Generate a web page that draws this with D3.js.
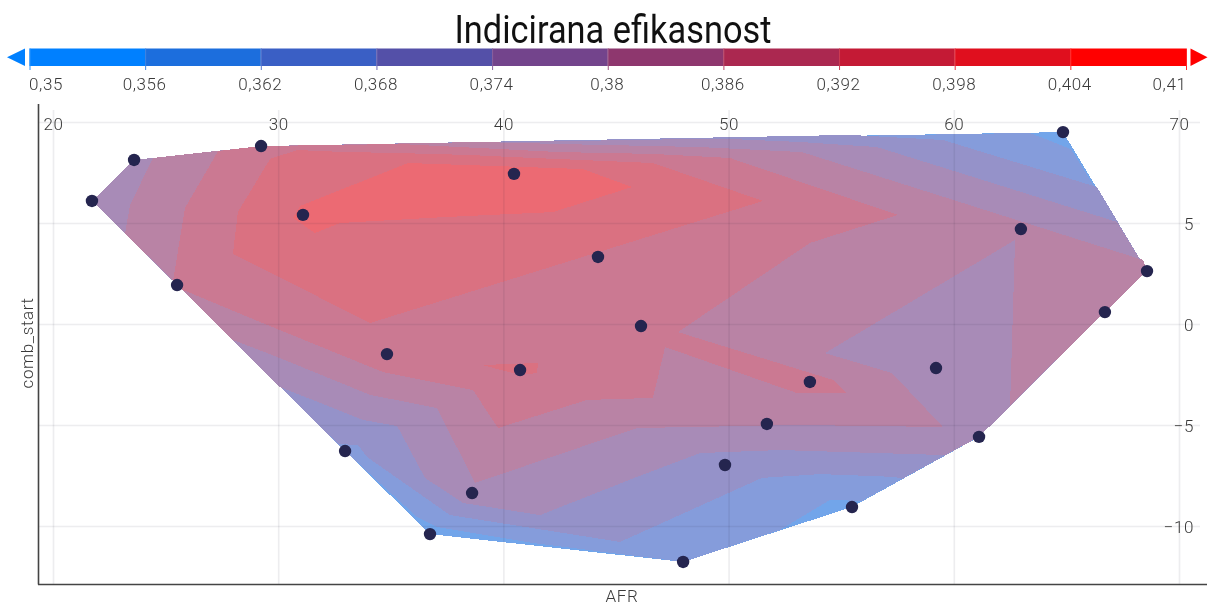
<!DOCTYPE html>
<html><head><meta charset="utf-8">
<script src="https://cdn.jsdelivr.net/npm/d3@7"></script>
<style>
html,body{margin:0;padding:0;background:#fff;overflow:hidden}
svg{display:block;filter:blur(.5px)}
text{font-family:Roboto,"Open Sans",sans-serif;fill:#3a3a3a}
.num{letter-spacing:.6px;font-weight:300}
</style></head><body>
<svg id="c" width="1209" height="606"></svg>
<script>
const titleText = "Indicirana efikasnost";
const xLabel = "AFR";
const yLabel = "comb_start";
const scaleTicks = [0.35,0.356,0.362,0.368,0.374,0.38,0.386,0.392,0.398,0.404,0.41];
const scaleColors = ["#0080ff","#1c6edd","#3a5fc5","#5450a8","#73448c","#8e376e","#ab2850","#c41a35","#e00f1e","#ff0000"];
const xTicks = [20,30,40,50,60,70];
const yGrid = [10,5,0,-5,-10];
const yTicks = [5,0,-5,-10];

// measured points: [AFR, comb_start]
const points = [[21.73,6.09],[23.60,8.12],[29.24,8.81],[31.10,5.40],[25.51,1.93],[40.47,7.43],[44.20,3.32],[46.11,-0.10],
[34.83,-1.49],[40.74,-2.28],[53.61,-2.87],[51.70,-4.95],[49.84,-6.98],[59.21,-2.18],[61.12,-5.59],[62.98,4.70],
[64.85,9.50],[68.58,2.62],[66.71,0.59],[55.48,-9.06],[47.98,-11.78],[38.61,-8.37],[36.74,-10.40],[32.97,-6.29]];

// contour regions: everything at or above the band's lower bound
const band356 = [[[21.73,6.09],[23.60,8.12],[29.24,8.81],[64.85,9.50],[68.58,2.62],[66.71,0.59],[61.12,-5.59],[55.48,-9.06],[47.98,-11.78],[36.74,-10.40],[32.97,-6.29],[25.51,1.93]]];
const band362 = [[[21.73,6.09],[23.60,8.12],[29.24,8.81],[63.38,9.46],[65.20,8.66],[68.58,2.62],[66.71,0.59],[61.12,-5.59],[55.92,-8.76],[54.50,-8.71],[52.28,-10.20],[47.98,-11.78],[41.31,-10.84],[37.05,-10.05],[36.16,-9.55],[32.97,-6.29],[25.51,1.93]]];
const band368 = [[[21.73,6.09],[23.60,8.12],[29.24,8.81],[55.39,9.36],[59.52,9.11],[66.36,6.78],[68.58,2.62],[66.71,0.59],[61.12,-5.59],[57.70,-7.67],[57.39,-7.57],[54.06,-7.43],[51.48,-7.62],[45.18,-10.79],[37.63,-9.46],[33.94,-6.58],[33.54,-5.99],[32.66,-5.94],[25.51,1.93]]];
const band374 = [[[21.73,6.09],[23.60,8.12],[29.24,8.81],[49.62,9.18],[53.17,9.01],[56.59,8.76],[60.28,7.48],[67.25,5.05],[68.58,2.62],[66.71,0.59],[61.12,-5.59],[59.61,-6.49],[52.28,-6.24],[48.73,-6.39],[45.93,-7.57],[41.63,-9.46],[38.21,-8.86],[36.52,-7.62],[35.28,-5.05],[33.77,-4.75],[30.08,-3.12],[25.51,1.93]]];
const band380 = [[[24.44,8.22],[29.24,8.81],[38.96,9.01],[42.51,8.91],[48.73,8.76],[53.26,8.51],[68.40,3.17],[68.58,2.62],[66.71,0.59],[62.50,-4.01],[62.72,4.16],[54.28,-1.44],[57.26,-2.43],[59.52,-5.10],[53.17,-5.00],[45.93,-5.15],[38.74,-7.87],[37.05,-4.16],[34.08,-3.51],[29.95,-1.63],[27.99,-0.79],[25.51,1.93],[23.20,4.50],[23.42,5.89]]];
const band386 = [[[27.33,8.56],[29.24,8.81],[35.41,8.91],[42.51,8.51],[46.64,8.42],[50.06,8.22],[57.52,5.40],[53.61,4.01],[47.75,-0.40],[54.64,-2.77],[55.26,-3.42],[53.04,-3.42],[47.18,-1.14],[46.64,-3.66],[43.71,-3.76],[39.76,-5.15],[38.65,-3.27],[34.65,-2.38],[29.19,0.10],[25.68,1.73],[25.33,2.13],[25.86,5.74]]];
const band392 = [[[30.83,8.61],[33.06,8.51],[35.10,8.47],[38.38,8.37],[41.31,8.22],[46.64,7.97],[51.53,6.09],[34.08,0.05],[27.99,3.47],[28.21,5.54],[29.64,8.17]],
                 [[39.05,-2.03],[41.54,-1.93],[41.49,-2.43],[40.74,-2.52]]];
const band398 = [[[30.97,5.84],[35.76,7.97],[43.53,7.67],[45.71,6.78],[42.20,5.54],[37.50,5.30],[32.74,5.00],[31.63,4.50],[30.66,5.25]]];
const bands = [band356,band362,band368,band374,band380,band386,band392,band398];

const svg = d3.select("#c");
const x = d3.scaleLinear().domain([20,70]).range([53,1179]);
const y = d3.scaleLinear().domain([-10,10]).range([526,122]);
const barX = d3.scaleLinear().domain([0.35,0.41]).range([29.5,1186]);
const bandFill = d3.scaleThreshold().domain(scaleTicks.slice(1,-1)).range(scaleColors);
const comma = v => String(v).replace(".",",");
const numSize = 17;

// title
svg.append("text").attr("x",613).attr("y",43).attr("text-anchor","middle")
  .attr("font-size",38).attr("textLength",317).attr("lengthAdjust","spacingAndGlyphs")
  .style("fill","#111").text(titleText);

// colour bar
const bar = svg.append("g");
bar.selectAll("rect").data(scaleColors).join("rect")
  .attr("x",(d,i)=>barX(scaleTicks[i])).attr("y",48.5)
  .attr("width",(d,i)=>barX(scaleTicks[i+1])-barX(scaleTicks[i])).attr("height",17.5)
  .attr("fill",d=>d);
const barAxis = d3.axisBottom(barX).tickValues(scaleTicks).tickFormat(comma).tickSize(21.5).tickPadding(8);
const barG = svg.append("g").attr("transform","translate(0,48.5)").call(barAxis);
barG.select(".domain").remove();
barG.attr("font-family",null);
barG.selectAll(".tick line").attr("stroke",(d,i)=>d3.interpolateRgb(scaleColors[Math.min(i,9)],"#fff")(0.15));
barG.selectAll(".tick text").attr("class","num").attr("font-size",numSize).style("fill","#3a3a3a")
  .attr("text-anchor",(d,i)=> i===0?"start":i===scaleTicks.length-1?"end":"middle")
  .attr("dx",(d,i)=> i===0?-1:i===scaleTicks.length-1?0:-1);
const arrow = d3.line();
const bw = 17.5;
svg.append("path").attr("d",arrow([[barX(0.35)-4.5,48.5],[barX(0.35)-4.5,48.5+bw],[barX(0.35)-22.5,57.2]])+"Z").attr("fill",scaleColors[0]);
svg.append("path").attr("d",arrow([[barX(0.41)+4.5,48.5],[barX(0.41)+4.5,48.5+bw],[barX(0.41)+21.5,57.2]])+"Z").attr("fill",scaleColors[9]);

// contour bands
const path = d3.line().x(d=>x(d[0])).y(d=>y(d[1]));
const contour = svg.append("g").attr("opacity",0.62);
bands.forEach((polys,i)=>{
  const lower = scaleTicks[i+1];
  contour.append("g").selectAll("path").data(polys).join("path")
    .attr("d",p=>path(p)+"Z").attr("fill",bandFill(lower+0.001)).attr("shape-rendering","crispEdges");
});

// grid
const gridColor = "rgba(30,20,50,0.08)";
const gx = svg.append("g").attr("transform","translate(0,110)")
  .call(d3.axisBottom(x).tickValues(xTicks).tickSize(474).tickFormat(""));
gx.select(".domain").remove();
gx.selectAll("line").attr("stroke",gridColor).attr("stroke-width",1.6);
const gy = svg.append("g").attr("transform","translate(38,0)")
  .call(d3.axisRight(y).tickValues(yGrid).tickSize(1162).tickFormat(""));
gy.select(".domain").remove();
gy.selectAll("line").attr("stroke",gridColor).attr("stroke-width",1.6);

// axis numbers
const tx = svg.append("g").attr("transform","translate(0,130)")
  .call(d3.axisBottom(x).tickValues(xTicks).tickSize(0).tickPadding(0));
tx.select(".domain").remove();
tx.attr("font-family",null);
tx.selectAll("text").attr("class","num").attr("font-size",numSize).attr("y",0).attr("dy",0).style("fill","#3a3a3a");
const ty = svg.append("g").attr("transform","translate(1194,0)")
  .call(d3.axisLeft(y).tickValues(yTicks).tickSize(0).tickPadding(0));
ty.select(".domain").remove();
ty.attr("font-family",null);
ty.selectAll("text").attr("class","num").attr("font-size",numSize).attr("dy","0.38em").style("fill","#3a3a3a");

// frame
svg.append("line").attr("x1",38.5).attr("x2",38.5).attr("y1",104).attr("y2",584.5).attr("stroke","#444").attr("stroke-width",1.6);
svg.append("line").attr("x1",38).attr("x2",1207).attr("y1",584.5).attr("y2",584.5).attr("stroke","#444").attr("stroke-width",1.6);

// labels
svg.append("text").attr("class","num").attr("x",622).attr("y",602).attr("text-anchor","middle").attr("font-size",numSize).text(xLabel);
svg.append("text").attr("class","num").attr("transform","translate(33,343) rotate(-90)").attr("text-anchor","middle").attr("font-size",numSize).text(yLabel);

// points
svg.append("g").selectAll("circle").data(points).join("circle")
  .attr("cx",d=>x(d[0])).attr("cy",d=>y(d[1])).attr("r",6.2).attr("fill","#25254f");
</script>
</body></html>
